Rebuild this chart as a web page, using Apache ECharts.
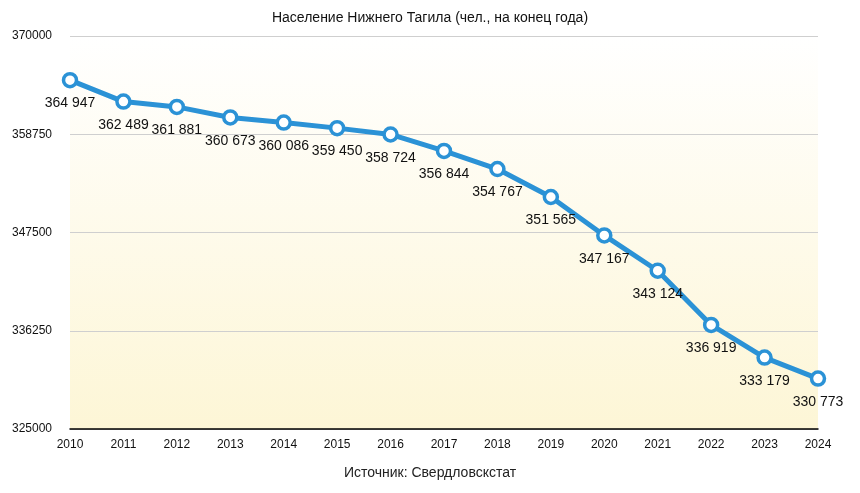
<!DOCTYPE html>
<html>
<head>
<meta charset="utf-8">
<script src="https://cdn.jsdelivr.net/npm/echarts@6/dist/echarts.min.js"></script>
<style>
  html, body { margin: 0; padding: 0; background: #fff; }
  #chart { width: 860px; height: 493px; }
</style>
</head>
<body>
<div id="chart"></div>
<script>
const years = ['2010', '2011', '2012', '2013', '2014', '2015', '2016', '2017',
    '2018', '2019', '2020', '2021', '2022', '2023', '2024'];
const population = [364947, 362489, 361881, 360673, 360086, 359450, 358724, 356844,
    354767, 351565, 347167, 343124, 336919, 333179, 330773];
const yMin = 325000;
const yMax = 370000;
const yStep = 11250;

const chart = echarts.init(document.getElementById('chart'));

// thousands with a space, like "364 947"
function fmt(v) {
    return String(v).replace(/\B(?=(\d{3})+(?!\d))/g, ' ');
}

const option = {
    animation: false,
    textStyle: { fontFamily: 'Liberation Sans, Arial, sans-serif' },
    title: [{
        text: 'Население Нижнего Тагила (чел., на конец года)',
        left: 'center',
        top: 6,
        textStyle: { fontSize: 14, fontWeight: 'normal', color: '#111' }
    }, {
        text: 'Источник: Свердловскстат',
        left: 'center',
        top: 461,
        textStyle: { fontSize: 14, fontWeight: 'normal', color: '#222' }
    }],
    grid: {
        left: 70,
        right: 42,
        top: 36,
        bottom: 64,
        show: true,
        borderWidth: 0,
        backgroundColor: new echarts.graphic.LinearGradient(0, 0, 0, 1, [
            { offset: 0, color: '#ffffff' },
            { offset: 1, color: '#fdf6d6' }
        ])
    },
    xAxis: {
        type: 'category',
        data: years,
        boundaryGap: false,
        axisLine: { lineStyle: { color: '#000', width: 1.5 } },
        axisTick: { show: false },
        axisLabel: { color: '#111', fontSize: 12, margin: 10 }
    },
    yAxis: {
        type: 'value',
        min: yMin,
        max: yMax,
        interval: yStep,
        axisLine: { show: false },
        axisTick: { show: false },
        splitLine: { lineStyle: { color: '#cfcfcf', width: 1 } },
        axisLabel: {
            color: '#111', fontSize: 12, align: 'left', margin: 58,
            formatter: function (v) { return String(v); }
        }
    },
    series: [{
        type: 'line',
        data: population,
        symbol: 'circle',
        symbolSize: 13,
        lineStyle: { color: '#2b92d6', width: 5 },
        itemStyle: { color: '#fff', borderColor: '#2b92d6', borderWidth: 3.5 },
        label: {
            show: true,
            position: 'bottom',
            distance: 8,
            fontSize: 14,
            color: '#111',
            formatter: function (p) { return fmt(p.value); }
        },
        z: 3
    }]
};
chart.setOption(option);
</script>
</body>
</html>
